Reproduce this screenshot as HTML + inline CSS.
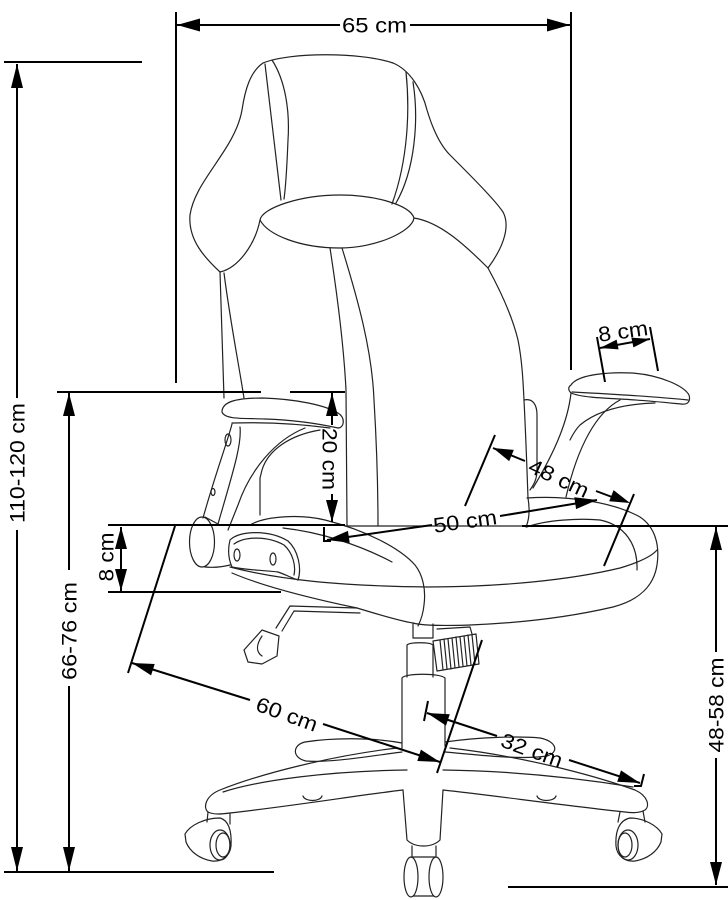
<!DOCTYPE html>
<html><head><meta charset="utf-8"><style>
html,body{margin:0;padding:0;background:#fff;}
svg{display:block;}
text{font-family:"Liberation Sans",Arial,sans-serif;font-size:21px;fill:#000;}
</style></head><body>
<svg width="728" height="900" viewBox="0 0 728 900" xmlns="http://www.w3.org/2000/svg">
<rect width="728" height="900" fill="#fff"/>
<g fill="none" stroke="#222" stroke-width="1.2" stroke-linecap="round" stroke-linejoin="round">
<!-- headrest / backrest -->
<path d="M263,63 C290,52 360,52 393,63"/>
<path d="M263,63 C250,72 245,90 242,110 C235,150 195,180 190,215 C188,240 205,258 220,272"/>
<path d="M393,63 C410,70 422,90 427,110 C433,130 440,145 450,155 C470,175 495,200 503,212 C510,225 505,245 488,268"/>
<path d="M220,272 C238,268 255,245 260,220"/>
<path d="M260,220 C262,208 300,195 340,195 C375,195 410,205 414,218 C412,232 375,248 340,248 C300,248 268,235 260,220 Z"/>
<path d="M265,64 L281,200"/>
<path d="M272,60 C285,80 290,110 288,140 C287,165 286,185 284,199"/>
<path d="M406,72 C410,110 408,160 392,204"/>
<path d="M413,82 C419,120 415,170 396,203"/>
<path d="M414,218 C440,222 465,245 488,268"/>
<path d="M220,272 L224,398"/>
<path d="M224,273 C230,320 238,360 244,398"/>
<path d="M330,248 C338,300 344,350 346,390 L347,525"/>
<path d="M342,248 C358,300 372,350 374,400 C377,450 378,490 378,526"/>
<path d="M488,268 C500,290 512,315 518,340 C522,360 523,380 524,400 C526,440 527,470 528,498"/>
<path d="M524,400 C533,398 537,405 537,415 L537,470 C537,480 533,486 530,490"/>
<path d="M260,478 L260,515"/>
<!-- seat -->
<path d="M345,526 L522,526"/>
<path d="M250,525 C265,516 300,514 325,520 C365,530 400,548 415,565 C423,575 426,590 424,605 C423,615 420,622 418,626"/>
<path d="M283,528 C320,532 360,545 392,562"/>
<path d="M230,567 C280,580 340,586 427,587 C500,587 570,580 620,568 C640,562 652,556 657,550"/>
<path d="M527,498 C570,495 615,503 640,517 C655,527 660,545 657,565 C654,585 640,600 613,607 C570,617 520,623 470,625 C440,626 420,625 413,623"/>
<path d="M232,573 C260,585 300,596 357,608 C380,615 400,621 413,623"/>
<path d="M527,527 C545,520 580,518 600,520 C625,525 638,545 637,570"/>
<path d="M528,498 C530,510 529,520 526,527"/>
<!-- left armrest -->
<path d="M222,412 C222,402 235,398 263,398 C295,399 325,405 338,413 C346,418 344,428 338,428 C320,424 295,420 265,419 C245,418 225,420 222,412 Z"/>
<path d="M232,423 C265,422 300,424 330,428"/>
<path d="M232,424 C228,440 215,475 203,518"/>
<path d="M240,427 C242,445 232,475 218,524"/>
<path d="M305,428 C275,440 250,470 238,505 L228,530"/>
<path d="M320,430 C290,435 268,450 262,470 L260,478"/>
<ellipse cx="228" cy="440" rx="3" ry="6"/>
<ellipse cx="213" cy="492" rx="2" ry="3.5"/>
<ellipse cx="202" cy="542" rx="12.5" ry="25"/>
<path d="M205,517 L218,524"/>
<path d="M205,567 C215,568 222,567 230,565"/>
<path d="M230,540 C240,530 270,530 288,541 C298,550 302,568 298,580 C292,578 284,574 278,572 C262,570 245,570 232,567 C228,558 228,548 230,540 Z"/>
<path d="M234,544 C245,536 268,536 284,545 C293,553 296,566 294,575"/>
<ellipse cx="237" cy="555" rx="3" ry="6"/>
<ellipse cx="273" cy="559" rx="3" ry="6"/>
<!-- right armrest -->
<path d="M571,385 C578,374 610,372 632,373 C660,375 684,386 689,395 C691,402 687,405 681,404 C660,402 640,400 620,399 C600,398 580,397 571,393 C568,390 568,387 571,385 Z"/>
<path d="M572,392 C610,394 660,397 688,400"/>
<path d="M571,393 C568,420 556,450 533,488"/>
<path d="M620,400 C597,412 578,445 566,497"/>
<path d="M655,403 C625,404 598,410 580,425 C575,430 572,436 570,440"/>
<!-- tilt lever -->
<path d="M357,608 L290,606 L276,628"/>
<path d="M360,613 L294,611 L282,631"/>
<path d="M244,650 L262,630 L279,636 L277,656 L262,664 L248,662 Z"/>
<path d="M262,636 C256,645 256,652 262,656"/>
<!-- gas lift -->
<path d="M413,624 L413,638 L433,638 L433,624"/>
<path d="M407,645 C410,642 430,642 433,645 L433,677 M407,645 L407,677"/>
<path d="M402,678 C405,673 440,673 445,678 L445,746 M402,678 L402,748"/>
<path d="M437,629 L470,627 L472,634"/>
<path d="M433,641 L476,634 L479,664 L437,671 Z"/>
<path d="M440,640 L443,670 M444,639 L447,669 M448,639 L451,669 M452,638 L455,668 M456,637 L459,667 M460,637 L463,666 M464,636 L467,666 M468,635 L471,665 M472,635 L475,664"/>
<!-- base -->
<path d="M402,743 C370,737 330,738 305,742 C292,745 292,758 306,761 C330,763 370,756 402,752"/>
<path d="M445,742 C480,737 520,736 540,738 C556,741 560,752 547,756 C520,760 480,755 445,752"/>
<path d="M407,770 C330,771 260,780 223,792"/>
<path d="M397,748 C330,756 260,774 220,790 C205,796 203,808 208,812 C214,815 222,814 230,813 C300,805 360,795 403,790"/>
<path d="M443,770 C520,771 590,780 633,787"/>
<path d="M450,748 C520,756 590,774 635,790 C648,796 650,806 645,810 C640,813 632,813 625,812 C560,805 490,795 443,790"/>
<path d="M403,790 L407,840 C415,848 432,848 440,840 L443,790"/>
<path d="M303,796 C305,802 320,802 322,796"/>
<path d="M537,796 C539,802 554,802 556,796"/>
<!-- casters -->
<path d="M208,812 L207,822 M230,813 L230,824"/>
<path d="M185,834 C190,825 205,818 220,818 C228,820 232,830 231,846 C230,856 222,862 212,861 C200,859 190,852 186,842 Z"/>
<ellipse cx="220" cy="845" rx="10" ry="15"/>
<ellipse cx="223" cy="845" rx="7" ry="12"/>
<path d="M620,812 L618,822 M643,811 L645,822"/>
<path d="M662,834 C657,825 643,818 630,818 C620,820 615,830 616,846 C617,856 625,862 635,861 C647,859 657,852 661,842 Z"/>
<ellipse cx="628" cy="845" rx="10" ry="15"/>
<ellipse cx="625" cy="845" rx="7" ry="12"/>
<path d="M412,846 L412,856 M436,846 L436,856"/>
<ellipse cx="411" cy="877" rx="7" ry="20"/>
<ellipse cx="436" cy="877" rx="7" ry="20"/>
<path d="M411,857 L436,857 M413,896 L434,896"/>
</g>
<!-- dimension lines -->
<g fill="none" stroke="#000" stroke-width="2">
<path d="M176,12 V383 M571,12 V370"/>
<path d="M177,25 H340 M410,25 H570"/>
<path d="M4,62 H142"/>
<path d="M17,64 V398 M17,530 V871"/>
<path d="M57,392 H261 M290,392 H345"/>
<path d="M69,393 V570 M69,686 V871"/>
<path d="M108,525 H345 M522,526 H728"/>
<path d="M108,592 H281"/>
<path d="M4,872 H274"/>
<path d="M508,887 H728"/>
<path d="M121,527 V591"/>
<path d="M716,527 V652 M716,758 V885"/>
<path d="M332,393 V425 M332,494 V522"/>
<path d="M324,527 V541 H331"/>
<path d="M327,540 L432,525 M500,516 L597,500"/>
<path d="M597,337 L605,382 M650,327 L658,371"/>
<path d="M600,348 L650,339"/>
<path d="M495,435 L465,506 M634,494 L604,566"/>
<path d="M493,448 L525,461 M596,491 L612,497"/>
<path d="M175,526 L128,673"/>
<path d="M132,663 L250,700 M323,724 L440,762"/>
<path d="M482,640 L437,773"/>
<path d="M428,701 L424,721"/>
<path d="M427,713 L497,736 M569,760 L640,783"/>
<path d="M644,774 L641,786 L634,786"/>
</g>
<g fill="#000" stroke="none">
<polygon points="177,25 200,18.5 200,31.5"/>
<polygon points="570,25 547,18.5 547,31.5"/>
<polygon points="17,64 11,88 23,88"/>
<polygon points="17,871 11,847 23,847"/>
<polygon points="69,393 63,416 75,416"/>
<polygon points="69,871 63,847 75,847"/>
<polygon points="332,393 326,416 338,416"/>
<polygon points="332,522 326,500 338,500"/>
<polygon points="121,527 115,549 127,549"/>
<polygon points="121,591 115,569 127,569"/>
<polygon points="716,527 710,550 722,550"/>
<polygon points="716,885 710,862 722,862"/>
<polygon points="600,348 618.6,349.4 616.6,339.6"/>
<polygon points="650,339 633.4,347.4 631.4,337.6"/>
<polygon points="493,448 509.2,461.1 513.8,449.9"/>
<polygon points="630,503 609.2,501.3 613.6,490.1"/>
<polygon points="327,540 349.7,542.7 347.9,530.9"/>
<polygon points="597,500 576.1,509.1 574.3,497.3"/>
<polygon points="132,663 151.1,675.4 154.7,664"/>
<polygon points="440,762 417.3,761 420.9,749.6"/>
<polygon points="427,713 446,725.6 449.8,714.2"/>
<polygon points="640,783 617.2,781.8 621,770.4"/>
</g>
<!-- labels -->
<text x="374.5" y="32.5" text-anchor="middle" textLength="65" lengthAdjust="spacingAndGlyphs">65 cm</text>
<text transform="translate(17,463) rotate(-90)" x="0" y="7.5" text-anchor="middle" textLength="120" lengthAdjust="spacingAndGlyphs">110-120 cm</text>
<text transform="translate(69,631) rotate(-90)" x="0" y="7.5" text-anchor="middle" textLength="98" lengthAdjust="spacingAndGlyphs">66-76 cm</text>
<text transform="translate(106,557) rotate(-90)" x="0" y="7.5" text-anchor="middle" textLength="49" lengthAdjust="spacingAndGlyphs">8 cm</text>
<text transform="translate(330,459) rotate(90)" x="0" y="7.5" text-anchor="middle" textLength="62" lengthAdjust="spacingAndGlyphs">20 cm</text>
<text transform="translate(716,705) rotate(-90)" x="0" y="7.5" text-anchor="middle" textLength="95" lengthAdjust="spacingAndGlyphs">48-58 cm</text>
<text transform="translate(623,331) rotate(-8)" x="0" y="7.5" text-anchor="middle" textLength="50" lengthAdjust="spacingAndGlyphs">8 cm</text>
<text transform="translate(559,478) rotate(25)" x="0" y="7.5" text-anchor="middle" textLength="64" lengthAdjust="spacingAndGlyphs">48 cm</text>
<text transform="translate(465,521) rotate(-8)" x="0" y="7.5" text-anchor="middle" textLength="64" lengthAdjust="spacingAndGlyphs">50 cm</text>
<text transform="translate(287,714) rotate(20)" x="0" y="7.5" text-anchor="middle" textLength="64" lengthAdjust="spacingAndGlyphs">60 cm</text>
<text transform="translate(532,750) rotate(20)" x="0" y="7.5" text-anchor="middle" textLength="64" lengthAdjust="spacingAndGlyphs">32 cm</text>
</svg>
</body></html>
